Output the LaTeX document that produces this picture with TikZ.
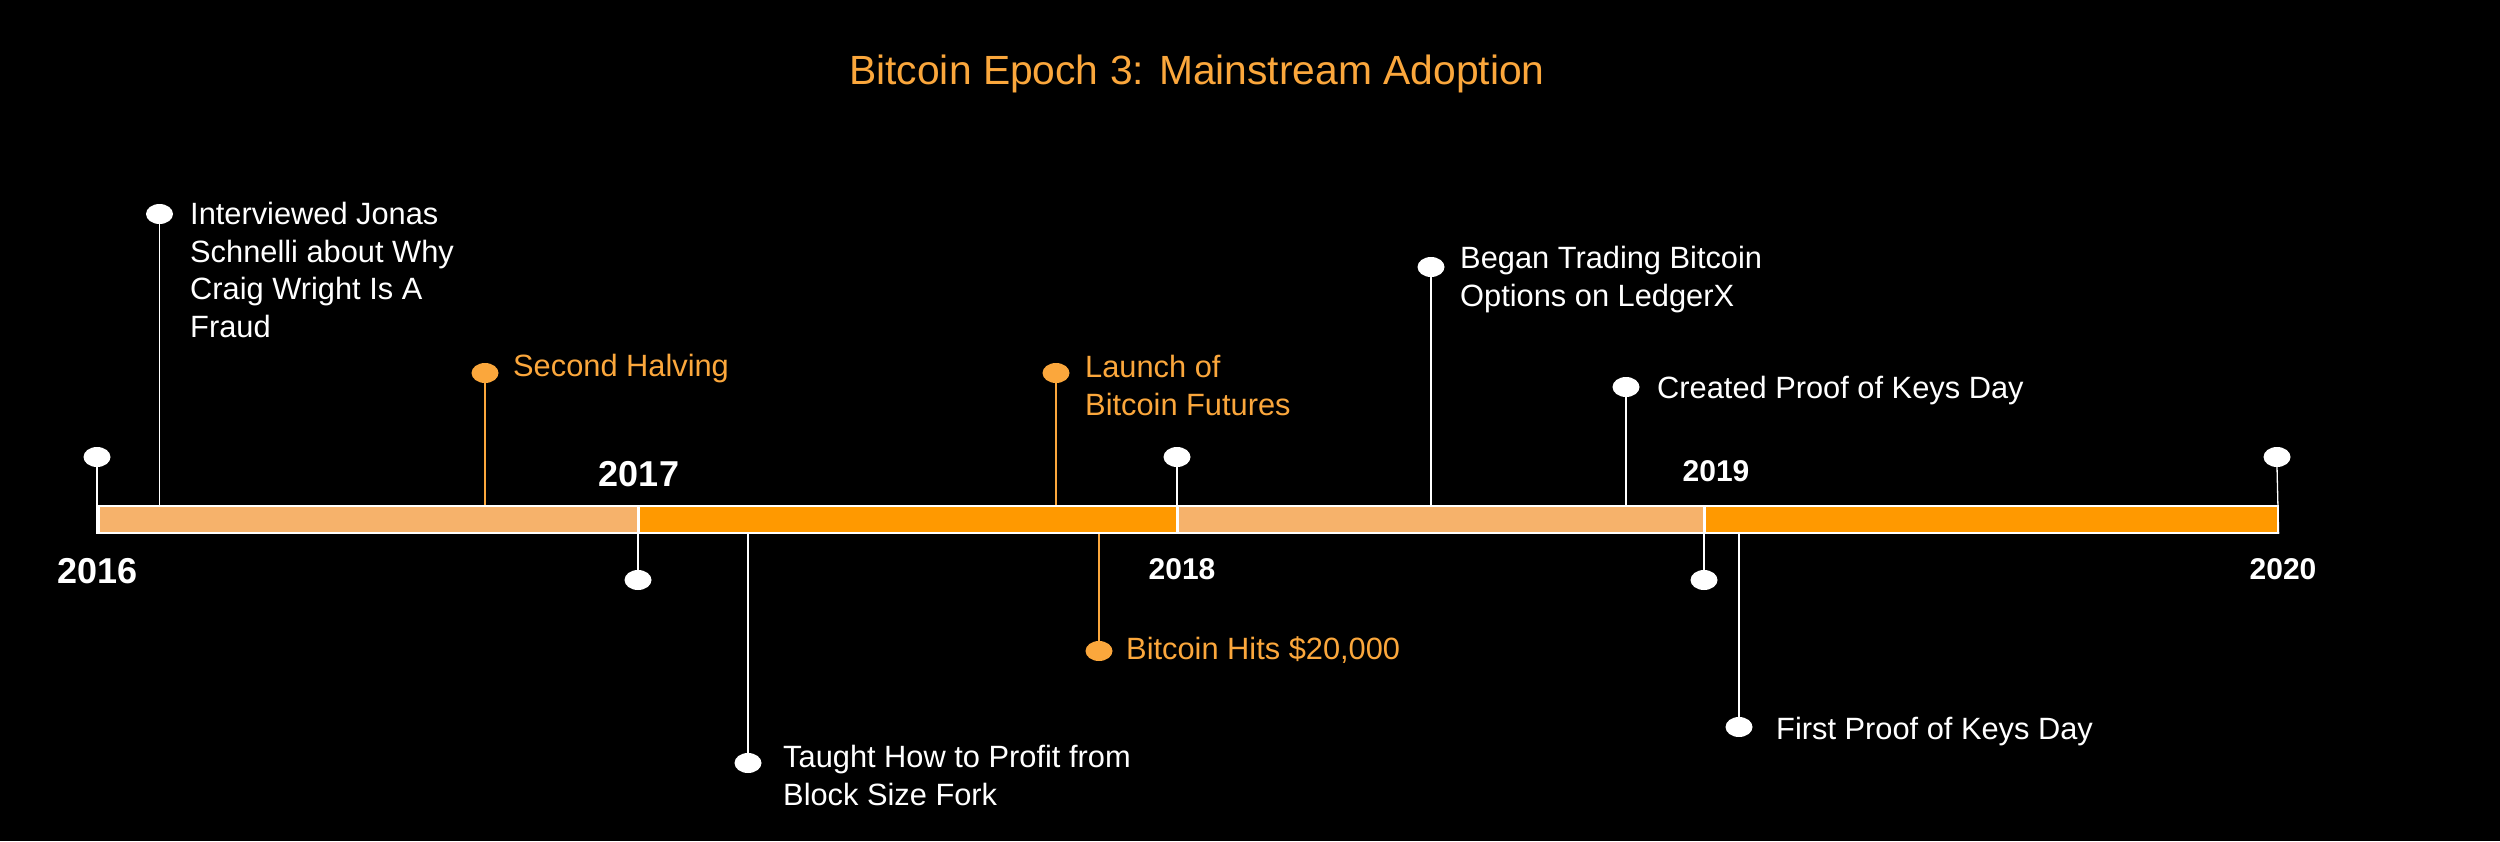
\documentclass[tikz,border=0pt]{standalone}
\usepackage{fontspec}
\setmainfont{Liberation Sans}
\usetikzlibrary{shapes.geometric}
\definecolor{lightO}{HTML}{F6B26B}
\definecolor{darkO}{HTML}{FF9900}
\definecolor{textO}{HTML}{FBA73C}
\tikzset{
  dotw/.style={ellipse, fill=white, draw=none, minimum width=27pt, minimum height=20pt, inner sep=0pt},
  doto/.style={ellipse, fill=textO, draw=none, minimum width=27pt, minimum height=20pt, inner sep=0pt},
  evw/.style={text=white, align=left, inner sep=0pt, font=\fontsize{30.8}{37.5}\selectfont},
  evo/.style={evw, text=textO},
  linkw/.style={draw=white, line width=1.3pt},
  linko/.style={draw=textO, line width=1.3pt},
  barseg/.style={draw=white, line width=1.6pt, anchor=north west, minimum height=27pt, inner sep=0pt},
  yearbig/.style={text=white, font=\bfseries\fontsize{36}{40}\selectfont, anchor=base, inner sep=0pt},
  yearsmall/.style={text=white, font=\bfseries\fontsize{30}{34}\selectfont, anchor=base, inner sep=0pt},
}
\begin{document}
\begin{tikzpicture}[x=1pt, y=-1pt]
\fill[black] (0,0) rectangle (2500,841);
\useasboundingbox (0,0) rectangle (2500,841);

% title
\node[text=textO, font=\fontsize{40.8}{46}\selectfont, anchor=base, inner sep=0pt] (title) at (1197,84) {Bitcoin Epoch 3: Mainstream Adoption};

% bar segments
\node[barseg, fill=lightO, minimum width=540pt] (s1) at (98,505) {};
\node[barseg, fill=darkO, minimum width=539pt] (s2) at (638,505) {};
\node[barseg, fill=lightO, minimum width=527pt] (s3) at (1177,505) {};
\node[barseg, fill=darkO, minimum width=573pt] (s4) at (1704,505) {};

% year markers
\node[dotw] (d16) at (97,457) {};
\draw[linkw] (d16.south) -- (d16.south |- s1.south);
\node[yearbig] (y16) at (97.5,583) {2016};

\node[dotw] (d17) at (638,580) {};
\draw[linkw] (s2.north west) -- (d17.north);
\node[yearbig] (y17) at (639,486) {2017};

\node[dotw] (d18) at (1177,457) {};
\draw[linkw] (d18.south) -- (s3.south west);
\node[yearsmall] (y18) at (1182,579) {2018};

\node[dotw] (d19) at (1704,580) {};
\draw[linkw] (s4.north west) -- (d19.north);
\node[yearsmall] (y19) at (1716,481) {2019};

\node[dotw] (d20) at (2277,457) {};
\draw[linkw] (d20.south) -- (s4.south east);
\node[yearsmall] (y20) at (2283,579) {2020};

% events above
\node[dotw] (e1) at (159.5,214) {};
\draw[linkw] (e1.south) -- (e1.south |- s1.north);
\node[evw, anchor=north west] (t1) at (190,202) {Interviewed Jonas\\Schnelli about Why\\Craig Wright Is A\\Fraud};

\node[doto] (e2) at (485,373) {};
\draw[linko] (e2.south) -- (e2.south |- s1.north);
\node[evo, anchor=base west] (t2) at (513,376) {Second Halving};

\node[doto] (e4) at (1056,373) {};
\draw[linko] (e4.south) -- (e4.south |- s2.north);
\node[evo, anchor=north west] (t4) at (1085,355) {Launch of\\Bitcoin Futures};

\node[dotw] (e6) at (1431,267) {};
\draw[linkw] (e6.south) -- (e6.south |- s3.north);
\node[evw, anchor=north west] (t6) at (1460,246) {Began Trading Bitcoin\\Options on LedgerX};

\node[dotw] (e7) at (1626,387) {};
\draw[linkw] (e7.south) -- (e7.south |- s3.north);
\node[evw, anchor=base west] (t7) at (1657,398) {Created Proof of Keys Day};

% events below
\node[dotw] (e3) at (748,763) {};
\draw[linkw] (e3.north) -- (e3.north |- s2.south);
\node[evw, anchor=north west] (t3) at (783,745) {Taught How to Profit from\\Block Size Fork};

\node[doto] (e5) at (1099,651) {};
\draw[linko] (e5.north) -- (e5.north |- s2.south);
\node[evo, anchor=base west] (t5) at (1126,659) {Bitcoin Hits \$20,000};

\node[dotw] (e8) at (1739,727) {};
\draw[linkw] (e8.north) -- (e8.north |- s4.south);
\node[evw, anchor=base west] (t8) at (1776,739) {First Proof of Keys Day};
\end{tikzpicture}
\end{document}
